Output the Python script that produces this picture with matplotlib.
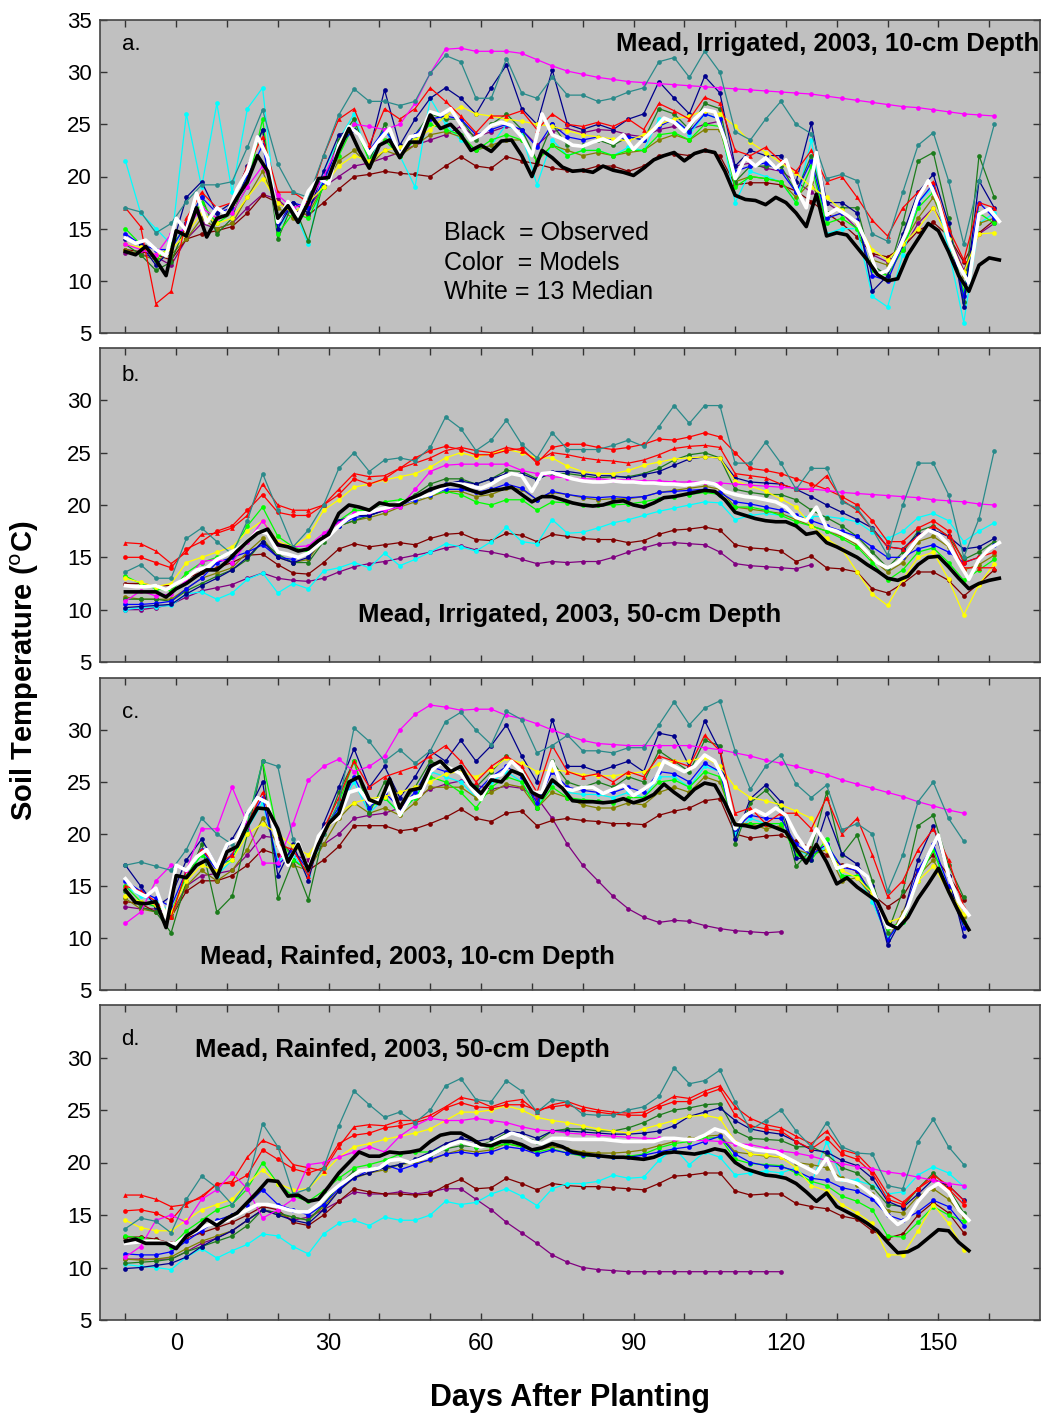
import numpy as np
import matplotlib.pyplot as plt

plt.rcParams['font.family'] = ['Liberation Sans', 'DejaVu Sans']

nan = np.nan

# Day grids (daily records thinned: observed/median every 2 days, models every 3 days)
obs_days_a = np.arange(-10, 163, 2)
mod_days_a = np.arange(-10, 162, 3)
obs_days_c = np.arange(-10, 157, 2)
mod_days_c = np.arange(-10, 156, 3)

# ---------------- Panel a: Irrigated, 10 cm ----------------
a_obs = [12.8, 12.5, 13.3, 12.0, 10.5, 14.8, 14.3, 17.0, 14.2, 16.0,
         16.3, 18.0, 19.5, 22.0, 20.5, 16.0, 17.2, 15.6, 17.5, 19.8,
         19.9, 22.5, 24.6, 22.5, 20.8, 23.0, 23.5, 21.8, 23.3, 23.3,
         25.9, 24.6, 25.0, 24.0, 22.5, 23.0, 22.4, 23.4, 23.5, 22.0,
         20.0, 22.5, 21.8, 20.9, 20.5, 20.6, 20.4, 21.0, 20.6, 20.4,
         20.1, 20.8, 21.6, 22.0, 22.3, 21.5, 22.2, 22.5, 22.3, 20.5,
         18.2, 17.8, 17.7, 17.3, 18.0, 17.5, 16.5, 15.2, 18.3, 14.3,
         14.6, 14.4, 13.2, 12.0, 10.6, 10.0, 10.2, 12.5, 14.0, 15.5,
         14.8, 12.8, 10.5, 9.0, 11.5, 12.2, 12.0]
a_med = [14.1, 13.6, 13.9, 13.0, 12.4, 16.0, 14.8, 18.4, 15.6, 17.0,
         16.3, 18.8, 20.5, 23.8, 21.8, 15.6, 17.6, 16.2, 18.6, 19.8,
         19.3, 23.0, 24.8, 24.0, 22.2, 23.5, 24.6, 22.0, 23.8, 24.0,
         26.2, 25.9, 26.5, 25.0, 23.5, 24.0, 24.9, 25.2, 24.9, 23.8,
         22.0, 26.0, 24.0, 23.6, 23.0, 22.9, 23.3, 23.6, 23.2, 24.0,
         22.6, 23.6, 24.5, 25.6, 25.2, 24.3, 25.5, 26.4, 26.2, 23.5,
         19.8, 21.8, 21.0, 21.8, 20.8, 21.6, 18.9, 17.0, 22.3, 16.3,
         16.9, 16.3, 15.6, 13.5, 10.6, 11.0, 12.8, 15.0, 18.0, 19.6,
         17.5, 14.0, 11.5, 9.8, 16.4, 16.9, 15.7]
a_teal = [17.0, 16.6, 14.6, 15.5, 17.6, 19.2, 19.2, 19.5, 22.8, 26.4,
          21.2, 18.5, 18.0, 22.0, 25.9, 28.4, 27.2, 27.2, 26.8, 27.2,
          29.9, 31.6, 31.0, 27.5, 27.5, 31.3, 28.0, 27.5, 29.5, 27.8,
          27.8, 27.2, 27.5, 28.1, 28.5, 31.0, 31.4, 29.5, 32.0, 30.0,
          24.3, 23.5, 25.5, 27.2, 25.0, 24.1, 19.8, 20.2, 19.6, 14.5,
          13.8, 18.5, 23.0, 24.2, 19.6, 13.5, 19.6, 25.0]
a_magenta = [13.5, 13.0, 12.5, 14.5, 15.0, 17.0, 16.0, 16.5, 19.0, 21.0,
             18.2, 17.0, 17.5, 20.0, 23.0, 25.0, 24.8, 24.5, 25.0, 27.0,
             29.9, 32.2, 32.3, 32.0, 32.0, 32.0, 31.8, 31.2, 30.6, 30.1,
             29.8, 29.5, 29.3, 29.1, 29.0, 28.9, 28.8, 28.7, 28.6, 28.5,
             28.4, 28.3, 28.2, 28.1, 28.0, 27.9, 27.7, 27.5, 27.3, 27.1,
             26.9, 26.7, 26.6, 26.4, 26.2, 26.0, 25.9, 25.8]
a_red = [17.0, 15.2, 7.8, 9.0, 16.0, 18.5, 17.0, 17.5, 21.0, 23.8,
         18.5, 18.5, 17.5, 22.0, 25.5, 26.5, 23.0, 26.5, 25.5, 26.5,
         28.5, 27.2, 25.8, 24.2, 25.8, 25.8, 26.3, 24.5, 26.0, 25.0,
         24.8, 25.2, 24.8, 25.5, 24.5, 27.0, 26.3, 25.5, 27.6, 27.0,
         22.5, 22.0, 22.8, 21.5, 20.5, 22.5, 19.5, 20.0, 18.0, 15.8,
         14.3, 17.0, 18.5, 19.5, 15.0, 12.0, 17.5, 17.0]
a_yellow = [13.5, 13.2, 12.5, 13.0, 14.5, 16.5, 15.5, 16.0, 18.0, 19.8,
            17.5, 16.5, 17.5, 19.0, 21.0, 22.0, 21.5, 22.5, 22.8, 23.5,
            24.5, 25.8, 26.7, 26.0, 25.8, 25.5, 25.3, 25.0, 24.8, 24.4,
            24.0, 23.8, 23.6, 23.4, 24.0, 25.0, 25.5, 25.8, 26.3, 26.0,
            24.8, 23.3, 22.3, 21.3, 20.3, 19.0, 18.0, 16.8, 15.5, 13.0,
            12.0, 13.5, 15.0, 17.0, 14.0, 10.8, 14.5, 14.6]
a_navy = [14.0, 13.5, 11.5, 13.0, 18.0, 19.5, 16.5, 17.5, 21.0, 24.5,
          15.0, 17.5, 16.5, 20.5, 24.0, 24.5, 22.5, 28.3, 23.0, 25.5,
          27.5, 28.5, 27.5, 26.0, 28.5, 30.7, 26.5, 25.0, 30.2, 25.0,
          24.5, 25.0, 24.5, 25.5, 26.0, 29.1, 27.5, 26.0, 29.6, 28.0,
          21.0, 22.5, 22.0, 22.0, 19.5, 25.1, 17.5, 17.5, 16.5, 9.0,
          10.5, 14.5, 18.5, 20.2, 15.5, 7.5, 19.6, 17.0]
a_blue = [14.5, 13.5, 13.0, 13.0, 15.5, 18.0, 16.5, 17.0, 20.0, 23.0,
          15.5, 17.5, 17.0, 19.5, 23.0, 24.5, 22.5, 24.5, 22.5, 24.0,
          25.5, 25.8, 25.5, 24.0, 24.5, 25.0, 24.5, 22.8, 25.0, 23.8,
          23.5, 23.8, 23.5, 23.8, 23.5, 24.8, 25.5, 24.3, 26.0, 25.5,
          20.5, 21.0, 21.3, 20.5, 18.5, 21.5, 16.0, 16.5, 15.8, 10.5,
          10.0, 13.5, 17.5, 19.3, 14.5, 8.5, 17.5, 16.0]
a_green = [15.0, 13.5, 12.0, 13.5, 15.0, 17.5, 15.5, 16.5, 19.0, 25.5,
           14.5, 16.5, 16.0, 19.0, 22.0, 25.0, 21.5, 23.5, 22.0, 23.5,
           25.0, 24.5, 24.0, 22.5, 23.5, 24.0, 23.5, 21.5, 23.0, 22.0,
           22.5, 22.5, 22.0, 22.5, 22.5, 24.0, 24.2, 23.5, 25.0, 24.8,
           19.0, 20.0, 19.8, 19.5, 17.5, 21.0, 15.5, 16.0, 15.0, 11.0,
           10.5, 13.0, 17.0, 18.5, 14.0, 9.0, 16.5, 15.5]
a_dkgreen = [13.5, 12.5, 11.0, 11.8, 15.5, 18.0, 14.5, 16.0, 20.5, 24.5,
             14.0, 17.5, 13.8, 19.5, 23.5, 25.5, 21.5, 25.0, 22.0, 24.0,
             26.0, 25.5, 25.5, 23.5, 25.0, 26.0, 24.5, 21.5, 25.0, 23.0,
             23.0, 23.5, 23.0, 23.8, 23.5, 26.5, 26.0, 24.5, 27.0, 26.5,
             19.5, 21.0, 21.0, 21.0, 18.5, 22.0, 16.5, 17.0, 17.0, 11.5,
             10.5, 15.5, 21.5, 22.3, 16.0, 8.0, 22.0, 18.0]
a_olive = [13.0, 12.5, 12.0, 12.5, 14.0, 16.0, 15.0, 15.5, 18.0, 20.5,
           17.0, 16.0, 16.5, 19.0, 21.5, 22.5, 21.0, 22.5, 22.0, 23.0,
           24.0, 24.3, 23.8, 22.5, 23.0, 23.5, 23.5, 21.5, 23.0, 22.5,
           22.0, 22.3, 22.0, 22.3, 22.5, 23.5, 24.0, 23.5, 24.5, 24.5,
           19.5, 20.0, 19.8, 19.5, 18.0, 19.5, 16.0, 16.5, 15.5, 12.0,
           11.5, 13.5, 16.0, 18.0, 14.5, 10.5, 15.5, 16.0]
a_cyan = [21.5, 16.5, 15.0, 13.5, 26.0, 19.0, 27.0, 18.5, 26.5, 28.5,
          15.0, 17.0, 13.5, 20.5, 23.5, 26.0, 21.5, 24.5, 22.0, 19.0,
          27.5, 25.0, 23.5, 22.5, 23.0, 25.0, 24.0, 19.2, 23.5, 22.0,
          22.5, 22.5, 22.0, 22.8, 22.5, 25.5, 25.5, 24.0, 26.0, 25.5,
          17.5, 20.5, 20.0, 19.5, 17.5, 23.5, 14.5, 15.0, 15.0, 8.5,
          7.5, 12.5, 17.5, 19.0, 13.0, 6.0, 15.5, 16.5]
a_maroon = [13.0, 12.8, 12.5, 12.0, 14.0, 14.5, 14.8, 15.2, 16.5, 18.2,
            17.5, 16.6, 16.3, 17.5, 18.8, 20.0, 20.2, 20.5, 20.3, 20.2,
            20.0, 21.0, 21.9, 21.0, 20.8, 21.9, 21.5, 21.2, 20.8, 20.6,
            20.6, 21.0, 21.0, 20.5, 21.0, 22.0, 22.2, 22.0, 22.5, 22.0,
            19.2, 19.4, 19.4, 19.2, 18.6, 17.6, 16.5, 15.5, 14.2, 12.6,
            12.3, 13.2, 14.8, 15.6, 14.3, 11.8, 14.6, 15.8]
a_purple = [12.7, 12.5, 12.3, 11.5, 14.0, 15.5, 15.0, 15.5, 17.0, 18.3,
            17.8, 16.5, 17.0, 19.0, 20.0, 21.0, 21.3, 21.8, 22.3, 23.0,
            23.5, 24.0, 24.8, 23.8, 24.3, 24.8, 24.5, 23.0, 24.3, 24.6,
            24.2, 24.5, 24.4, 24.0, 23.8, 24.5, 24.8, 24.5, 25.0, 25.3,
            21.0, 21.3, 20.8, 20.5, 19.5, 18.5, 17.5, 16.5, 15.0, 12.5,
            11.8, 13.0, 15.5, 17.0, 14.5, 11.0, 14.5, 15.5]

# ---------------- Panel b: Irrigated, 50 cm ----------------
b_obs = [11.7, 11.7, 11.7, 11.7, 11.2, 12.0, 12.5, 13.2, 13.8, 13.8,
         14.6, 15.6, 16.5, 17.3, 17.7, 16.2, 16.0, 15.6, 15.8, 16.6,
         17.2, 19.2, 20.0, 19.8, 19.5, 20.2, 20.0, 20.0, 20.6, 21.0,
         21.5, 21.8, 22.0, 21.8, 21.4, 21.1, 21.4, 21.5, 21.7, 21.0,
         20.3, 20.8, 20.8, 20.5, 20.2, 20.0, 19.9, 20.0, 20.3, 20.4,
         20.0, 19.8, 20.2, 20.7, 20.8, 21.0, 21.2, 21.4, 21.3, 20.5,
         19.3, 19.0, 18.7, 18.5, 18.4, 18.4, 18.0, 17.2, 17.4, 16.4,
         16.0, 15.5, 15.0, 14.3, 13.7, 13.0, 12.8, 13.2, 14.3, 15.0,
         15.1, 14.1, 13.0, 12.0, 12.5, 12.8, 13.0]
b_med = [12.3, 12.2, 12.2, 12.3, 11.9, 12.5, 13.0, 13.8, 14.0, 14.8,
         15.3, 15.8, 16.5, 17.5, 17.3, 15.5, 15.3, 15.0, 15.4, 16.2,
         17.0, 18.0, 18.8, 19.2, 19.3, 19.6, 19.8, 20.2, 20.5, 20.8,
         21.0, 21.5, 22.0, 22.0, 21.8, 21.6, 22.0, 22.6, 23.0, 22.8,
         21.3, 23.0, 23.1, 22.8, 22.5, 22.3, 22.2, 22.2, 22.3, 22.2,
         22.2, 22.1, 22.1, 22.0, 22.0, 21.9, 22.0, 22.2, 22.0, 21.3,
         21.0, 20.8, 20.7, 20.5, 20.3, 19.8, 18.8, 18.5, 19.8, 17.8,
         17.5, 17.0, 16.5, 15.5, 14.5, 14.0, 14.5, 15.5, 16.8, 17.6,
         17.2, 16.2, 14.5, 12.9, 14.8, 15.8, 16.4]
b_teal = [13.6, 14.3, 13.0, 13.0, 16.8, 17.8, 16.5, 15.3, 18.5, 23.0,
          19.5, 16.0, 17.6, 20.0, 23.5, 25.0, 23.2, 24.3, 24.5, 24.2,
          25.5, 28.4, 27.3, 25.2, 26.2, 28.1, 25.8, 24.5, 26.9, 25.3,
          25.3, 25.3, 25.7, 26.2, 25.6, 27.5, 29.5, 27.8, 29.5, 29.5,
          24.0, 24.0, 26.0, 24.0, 21.5, 23.5, 23.5, 20.3, 19.7, 17.7,
          15.2, 20.0, 24.0, 24.0, 21.0, 15.0, 18.7, 25.2]
b_magenta = [10.8, 11.8, 11.3, 11.5, 12.8, 14.6, 14.8, 14.5, 16.5, 18.5,
             16.3, 16.0, 16.1, 17.3, 18.3, 19.2, 19.3, 19.5, 19.8, 21.5,
             23.2, 23.8, 23.9, 23.9, 23.9, 23.9, 23.3, 23.0, 22.7, 22.6,
             22.5, 22.5, 22.4, 22.4, 22.3, 22.3, 22.2, 22.2, 22.2, 22.1,
             22.0, 21.9, 21.8, 21.7, 21.6, 21.5, 21.4, 21.2, 21.1, 21.0,
             20.9, 20.8, 20.7, 20.5, 20.4, 20.3, 20.1, 20.0]
b_red = [16.4, 16.3, 15.6, 14.4, 15.5, 17.2, 17.3, 17.8, 19.0, 22.0,
         20.0, 19.5, 19.5, 20.0, 21.5, 23.0, 22.7, 22.8, 23.5, 24.0,
         24.5, 25.2, 25.5, 25.2, 25.0, 25.5, 25.2, 24.2, 25.0, 24.8,
         24.5, 24.3, 24.2, 24.0, 24.3, 24.8, 25.4, 25.6, 25.7, 25.5,
         23.0, 22.8, 22.6, 22.0, 21.5, 21.5, 22.8, 20.5, 19.5, 17.7,
         16.0, 15.8, 17.0, 18.0, 17.0, 14.0, 14.0, 14.0]
b_red2 = [15.0, 15.0, 14.5, 14.0, 15.8, 16.5, 17.5, 18.0, 19.5, 21.0,
          19.3, 19.0, 19.0, 20.0, 21.0, 22.5, 22.0, 22.5, 23.5, 24.5,
          25.2, 25.6, 25.3, 24.8, 24.8, 25.2, 25.4, 24.0, 25.5, 25.8,
          25.8, 25.5, 25.3, 25.5, 25.8, 26.3, 26.2, 26.5, 26.9, 26.5,
          25.0, 23.5, 23.3, 23.0, 22.5, 22.0, 21.5, 20.8, 20.0, 18.5,
          16.5, 16.5, 17.8, 18.5, 17.5, 14.5, 15.0, 15.5]
b_yellow = [13.0, 12.6, 12.2, 12.5, 14.5, 15.0, 15.5, 16.0, 17.5, 18.5,
            16.5, 16.0, 17.0, 19.5, 20.5, 21.7, 22.0, 22.4, 22.7, 23.0,
            23.6, 24.5, 25.0, 24.6, 24.9, 25.3, 25.0, 24.5, 24.5, 23.7,
            23.2, 23.0, 23.0, 23.3, 23.8, 24.1, 24.4, 24.5, 24.6, 24.5,
            22.3, 21.8, 21.3, 20.6, 19.8, 18.0, 16.8, 15.8, 13.6, 11.5,
            10.4, 12.9, 15.0, 15.5, 12.9, 9.5, 12.4, 14.4]
b_navy = [10.2, 10.3, 10.4, 10.5, 11.5, 12.3, 13.0, 13.8, 15.0, 16.5,
          15.0, 14.5, 15.0, 17.0, 18.5, 19.0, 19.0, 19.5, 20.0, 20.8,
          21.5, 22.0, 22.3, 22.0, 22.5, 23.0, 23.0, 22.4, 23.2, 23.2,
          23.0, 22.8, 22.8, 22.6, 22.9, 23.2, 23.8, 24.4, 24.6, 24.5,
          22.6, 22.2, 22.1, 22.0, 21.5, 20.8, 20.0, 19.3, 18.6, 17.8,
          16.0, 15.8, 17.2, 17.6, 17.0, 15.8, 16.0, 16.8]
b_blue = [10.5, 10.5, 10.6, 10.8, 12.0, 13.0, 14.5, 15.0, 15.5, 16.2,
          15.0, 14.8, 15.3, 16.8, 18.0, 18.8, 19.0, 19.5, 20.0, 20.5,
          21.0, 21.5, 21.5, 21.2, 21.5, 22.0, 21.6, 20.5, 21.3, 21.0,
          20.8, 20.7, 20.8, 20.7, 20.8, 21.2, 21.3, 21.4, 21.5, 21.2,
          20.3, 20.1, 19.8, 19.5, 19.0, 18.5, 18.0, 17.5, 17.0, 16.0,
          15.0, 15.0, 15.8, 16.2, 15.5, 14.5, 15.0, 16.2]
b_green = [13.2, 12.5, 12.0, 11.8, 13.5, 14.5, 15.0, 15.5, 18.0, 19.8,
           17.0, 16.0, 15.5, 17.0, 18.5, 19.5, 19.5, 20.3, 20.5, 20.5,
           21.0, 21.3, 21.0, 20.3, 20.0, 20.5, 20.5, 19.5, 20.3, 20.2,
           20.0, 20.0, 20.0, 20.1, 20.3, 20.6, 20.8, 21.0, 21.2, 21.0,
           19.8, 19.8, 19.5, 19.0, 18.4, 18.0, 17.5, 16.8, 16.0, 14.5,
           12.8, 13.8, 15.5, 15.9, 14.5, 12.8, 13.8, 14.8]
b_dkgreen = [11.0, 11.0, 11.0, 10.8, 11.8, 12.5, 13.2, 13.8, 14.8, 16.5,
             15.3, 14.5, 14.5, 16.5, 18.0, 18.5, 19.0, 19.5, 20.0, 21.0,
             22.0, 22.5, 22.5, 22.0, 22.5, 23.3, 23.2, 22.5, 23.0, 23.0,
             22.8, 22.6, 22.7, 22.7, 23.0, 23.5, 24.3, 24.8, 25.0, 24.5,
             21.5, 21.2, 21.0, 21.0, 20.5, 19.5, 18.8, 18.0, 17.0, 15.5,
             14.0, 15.5, 17.5, 18.0, 17.0, 14.8, 15.5, 16.5]
b_olive = [11.2, 11.0, 11.0, 11.0, 12.0, 13.0, 13.5, 14.0, 15.5, 16.8,
           15.0, 14.5, 14.8, 16.8, 18.0, 18.5, 18.8, 19.2, 19.8, 20.3,
           20.8, 21.3, 21.3, 20.8, 21.0, 21.6, 21.5, 20.5, 21.2, 21.0,
           20.7, 20.5, 20.6, 20.6, 20.8, 21.2, 21.4, 21.6, 21.8, 21.5,
           19.8, 19.6, 19.4, 19.2, 18.6, 18.0, 17.5, 17.0, 16.2, 14.8,
           13.6, 14.5, 16.5, 17.0, 16.0, 13.8, 14.3, 15.2]
b_cyan = [10.0, 10.2, 10.3, 10.4, 11.5, 11.7, 11.0, 11.6, 12.9, 13.5,
          11.6, 12.5, 12.0, 13.7, 14.0, 14.5, 14.0, 15.4, 14.2, 14.8,
          15.5, 16.3, 16.0, 15.6, 16.5, 17.9, 16.5, 16.3, 18.6, 17.3,
          17.4, 17.8, 18.3, 18.6, 19.0, 19.4, 19.7, 20.0, 20.3, 20.2,
          18.6, 19.0, 19.2, 19.0, 18.9, 18.9, 18.9, 18.7, 18.4, 17.4,
          16.8, 17.5, 18.8, 19.2, 18.5, 16.5, 17.5, 18.3]
b_maroon = [12.5, 12.5, 12.3, 12.3, 13.0, 13.6, 14.0, 14.5, 15.2, 15.3,
            14.3, 13.5, 13.4, 14.5, 15.8, 16.3, 16.0, 16.2, 16.4, 16.2,
            16.8, 17.2, 17.3, 16.7, 16.6, 17.3, 17.1, 16.5, 17.2, 17.0,
            16.8, 16.7, 16.7, 16.4, 16.6, 17.2, 17.6, 17.7, 17.9, 17.6,
            16.2, 15.9, 15.8, 15.6, 14.6, 15.1, 14.0, 13.9, 13.6, 12.0,
            11.6, 12.5, 13.6, 13.6, 12.8, 11.3, 12.5, 13.8]
b_purple = [10.0, 10.0, 10.2, 10.5, 11.2, 11.8, 12.1, 12.4, 13.0, 13.5,
            13.0, 12.8, 12.7, 13.0, 13.6, 14.1, 14.4, 14.6, 14.9, 15.2,
            15.5, 15.9, 16.1, 15.7, 15.5, 15.2, 14.8, 14.4, 14.6, 14.5,
            14.6, 14.6, 15.0, 15.5, 15.9, 16.3, 16.4, 16.3, 16.2, 15.5,
            14.4, 14.2, 14.1, 14.0, 13.9, 14.3, nan, nan, nan, nan,
            nan, nan, nan, nan, nan, nan, nan, nan]

# ---------------- Panel c: Rainfed, 10 cm ----------------
c_obs = [14.6, 13.4, 13.3, 13.5, 11.0, 16.0, 15.8, 17.0, 17.5, 15.8,
         18.3, 18.8, 20.8, 22.5, 22.4, 20.5, 17.3, 19.0, 16.5, 19.0,
         21.0, 22.0, 25.0, 25.5, 23.3, 22.9, 25.3, 22.5, 24.2, 24.4,
         26.5, 27.0, 26.0, 26.5, 24.8, 23.9, 25.2, 25.0, 26.1, 25.7,
         24.0, 23.5, 25.2, 24.4, 23.2, 23.1, 23.1, 23.0, 23.1, 23.4,
         23.0, 23.3, 23.8, 24.8, 24.0, 23.3, 24.3, 24.9, 24.7, 23.0,
         20.9, 20.8, 20.6, 21.0, 20.6, 20.2, 18.6, 17.2, 19.0, 17.3,
         15.2, 15.8, 14.9, 14.2, 13.5, 11.4, 10.9, 12.0, 13.8, 15.2,
         16.7, 14.5, 12.5, 10.8]
c_med = [15.7, 14.5, 14.0, 14.8, 12.0, 17.0, 16.5, 17.8, 18.5, 16.8,
         19.0, 19.5, 22.0, 23.5, 23.0, 19.0, 17.0, 19.2, 16.5, 19.8,
         21.0, 21.5, 24.0, 24.3, 23.0, 23.3, 24.5, 21.8, 23.4, 23.7,
         26.0, 26.8, 26.3, 25.8, 24.5, 23.3, 25.5, 25.7, 27.0, 26.0,
         24.0, 24.0, 27.0, 24.4, 24.2, 24.5, 24.5, 23.9, 24.3, 24.7,
         23.7, 24.3, 25.0, 27.0, 26.5, 26.0, 26.5, 27.6, 27.0, 25.0,
         20.5, 21.8, 22.3, 21.8, 22.5, 21.8, 19.9, 18.5, 20.5, 19.0,
         16.7, 17.0, 16.7, 15.9, 13.5, 11.0, 11.1, 13.0, 15.8, 18.0,
         19.9, 16.0, 13.5, 12.2]
c_teal = [17.0, 17.3, 16.9, 16.5, 18.5, 21.5, 20.0, 19.0, 20.8, 27.0,
          26.5, 19.5, 16.9, 20.0, 23.0, 30.2, 28.9, 27.0, 28.1, 26.8,
          28.0, 30.8, 31.7, 30.0, 28.6, 31.8, 31.0, 27.8, 28.5, 29.5,
          28.0, 28.0, 27.8, 28.3, 28.3, 30.5, 32.7, 30.5, 32.1, 32.8,
          28.0, 24.3, 26.5, 27.6, 24.8, 23.5, 24.7, 20.4, 21.0, 20.0,
          14.5, 18.0, 23.1, 25.0, 21.5, 19.3]
c_magenta = [11.4, 12.5, 15.5, 17.0, 16.5, 20.5, 20.5, 24.5, 21.0, 17.2,
             17.2, 21.0, 25.2, 26.5, 27.2, 26.0, 26.5, 27.5, 30.0, 31.5,
             32.4, 32.2, 31.9, 32.0, 32.0, 31.4, 31.1, 30.6, 30.0, 29.5,
             29.0, 28.7, 28.6, 28.5, 28.5, 28.5, 28.5, 28.5, 28.3, 28.1,
             27.8, 27.5, 27.1, 26.8, 26.5, 26.1, 25.7, 25.2, 24.8, 24.4,
             24.0, 23.6, 23.1, 22.7, 22.3, 22.0]
c_red = [15.0, 14.5, 13.5, 12.0, 16.5, 18.5, 17.0, 18.0, 21.0, 24.0,
         19.0, 18.5, 16.0, 20.5, 23.5, 27.0, 24.5, 25.5, 26.0, 26.5,
         27.5, 28.5, 27.0, 25.0, 26.5, 27.5, 26.5, 24.0, 28.5, 26.0,
         25.5, 25.8, 25.0, 26.0, 25.5, 27.5, 27.0, 26.5, 29.5, 28.0,
         22.0, 22.5, 21.0, 22.0, 22.0, 20.5, 23.5, 20.0, 21.5, 18.0,
         14.0, 15.5, 18.5, 20.5, 17.5, 13.0]
c_yellow = [14.0, 13.5, 13.2, 12.5, 15.5, 17.0, 16.5, 17.5, 20.0, 21.0,
            20.0, 18.8, 18.0, 20.0, 22.0, 23.0, 23.4, 23.6, 24.0, 24.5,
            25.0, 25.8, 26.0, 25.5, 26.2, 27.3, 26.8, 26.0, 26.2, 26.0,
            25.7, 25.6, 25.6, 25.8, 26.0, 26.7, 27.0, 27.0, 27.4, 26.5,
            24.5, 23.5, 23.2, 22.8, 22.2, 21.5, 18.5, 16.5, 15.8, 14.3,
            11.5, 12.0, 15.5, 16.9, 14.5, 12.3]
c_navy = [17.0, 15.0, 13.0, 14.0, 17.5, 19.5, 17.0, 19.5, 22.0, 25.0,
          16.0, 19.0, 15.5, 21.0, 24.5, 28.2, 24.5, 26.5, 23.5, 25.5,
          28.0, 27.0, 29.0, 27.0, 28.5, 30.5, 27.5, 25.0, 31.0, 26.5,
          26.5, 26.0, 26.5, 27.0, 26.0, 29.7, 29.4, 26.5, 30.9, 28.0,
          19.5, 23.4, 24.7, 23.1, 17.7, 17.5, 22.0, 18.1, 17.1, 15.0,
          9.3, 12.0, 17.5, 20.8, 16.0, 10.2]
c_blue = [15.5, 14.5, 13.8, 13.0, 16.5, 18.5, 16.5, 18.0, 21.0, 23.5,
          17.0, 18.5, 16.5, 20.5, 22.5, 25.5, 22.5, 24.0, 22.5, 24.0,
          26.5, 26.0, 26.0, 24.0, 25.5, 26.5, 25.5, 23.0, 26.0, 24.5,
          24.2, 24.0, 24.0, 24.5, 24.0, 26.0, 25.8, 25.0, 26.8, 26.0,
          20.5, 21.8, 21.5, 21.5, 19.0, 18.0, 19.0, 16.8, 16.5, 14.0,
          9.8, 12.0, 16.5, 19.0, 15.0, 11.0]
c_green = [15.0, 13.5, 13.0, 12.5, 16.0, 18.0, 17.0, 17.5, 21.0, 27.0,
           20.0, 17.5, 16.5, 20.0, 23.0, 27.0, 22.5, 23.5, 22.0, 23.5,
           25.5, 25.0, 24.0, 22.5, 24.5, 25.5, 25.0, 22.5, 24.5, 23.5,
           23.3, 23.2, 23.0, 23.5, 23.5, 25.0, 25.2, 24.5, 26.0, 25.5,
           20.5, 21.0, 21.0, 21.0, 18.0, 17.5, 19.5, 16.0, 16.0, 14.5,
           11.0, 11.5, 15.5, 18.5, 14.5, 11.5]
c_dkgreen = [14.5, 13.0, 12.5, 10.5, 15.5, 19.0, 12.5, 14.0, 20.0, 27.0,
             13.8, 17.5, 13.7, 20.0, 24.0, 27.0, 22.0, 25.0, 22.5, 24.5,
             27.0, 26.5, 26.0, 24.5, 26.0, 27.5, 26.0, 22.5, 27.0, 25.0,
             24.5, 25.0, 24.5, 25.5, 25.0, 28.0, 27.0, 26.0, 29.0, 28.5,
             19.0, 23.0, 24.2, 22.5, 16.9, 18.5, 24.0, 18.0, 19.9, 15.5,
             10.5, 14.5, 20.8, 21.8, 17.0, 13.9]
c_olive = [13.8, 12.8, 12.5, 12.0, 15.0, 16.5, 15.5, 16.5, 18.5, 21.5,
           19.0, 17.0, 16.5, 19.0, 21.5, 23.0, 22.0, 22.5, 21.8, 23.0,
           24.5, 24.5, 24.5, 23.5, 24.0, 24.8, 24.5, 22.5, 24.0, 23.5,
           22.8, 22.5, 22.5, 23.0, 22.8, 24.0, 24.5, 24.0, 25.5, 25.0,
           21.0, 21.0, 20.5, 20.8, 18.5, 18.0, 18.5, 15.5, 15.8, 14.0,
           9.8, 12.5, 16.0, 17.5, 14.8, 12.0]
c_cyan = [15.0, 14.0, 13.5, 12.5, 16.0, 18.0, 16.0, 17.5, 20.5, 23.0,
          17.5, 18.0, 16.0, 20.0, 22.5, 25.0, 22.0, 23.5, 22.0, 23.5,
          26.0, 25.5, 25.0, 23.5, 25.0, 26.0, 25.0, 22.5, 25.0, 24.0,
          23.8, 23.8, 23.5, 24.0, 23.5, 25.5, 25.5, 24.5, 26.5, 26.0,
          20.0, 21.5, 21.0, 21.0, 18.5, 17.8, 18.8, 16.0, 16.0, 13.5,
          10.0, 11.5, 16.0, 18.5, 14.5, 11.5]
c_maroon = [13.5, 13.3, 12.5, 12.0, 14.5, 15.5, 15.5, 16.0, 17.0, 18.5,
            18.0, 17.5, 16.5, 17.5, 18.8, 20.8, 20.8, 20.8, 20.3, 20.5,
            21.0, 21.6, 22.4, 21.5, 21.2, 22.0, 22.2, 20.8, 21.3, 21.5,
            21.3, 21.2, 21.0, 21.0, 20.9, 21.8, 22.2, 22.5, 23.2, 23.4,
            20.0, 19.6, 19.8, 19.9, 19.3, 18.7, 18.0, 17.0, 16.4, 14.2,
            13.0, 14.0, 16.5, 18.0, 16.0, 13.7]
c_purple = [13.0, 12.8, 12.8, 12.3, 15.0, 16.0, 16.2, 16.5, 18.0, 19.8,
            19.6, 18.0, 17.5, 19.0, 20.0, 21.5, 21.8, 22.0, 22.5, 23.5,
            24.3, 24.8, 25.1, 24.7, 24.3, 24.6, 24.4, 23.5, 21.5, 19.0,
            17.0, 15.5, 14.0, 12.8, 12.0, 11.5, 11.7, 11.6, 11.2, 10.9,
            10.7, 10.6, 10.5, 10.6, nan, nan, nan, nan, nan, nan,
            nan, nan, nan, nan, nan, nan]

# ---------------- Panel d: Rainfed, 50 cm ----------------
d_obs = [12.5, 12.7, 12.3, 12.3, 12.3, 11.8, 13.0, 13.6, 14.6, 14.0,
         14.7, 15.2, 16.2, 17.2, 18.3, 18.2, 16.8, 16.9, 16.3, 16.5,
         17.7, 19.0, 20.0, 21.0, 20.6, 20.6, 21.0, 20.9, 21.0, 21.2,
         22.0, 22.6, 22.8, 22.8, 22.3, 21.7, 21.6, 22.0, 22.0, 21.7,
         21.2, 21.4, 21.8, 21.5, 21.0, 20.8, 20.7, 20.6, 20.5, 20.5,
         20.4, 20.3, 20.5, 20.9, 21.0, 20.9, 20.8, 21.0, 21.3, 21.1,
         20.0, 19.4, 19.1, 18.8, 18.7, 18.5, 18.0, 17.2, 16.3, 17.1,
         15.8, 15.3, 14.8, 14.2, 13.5, 12.4, 11.4, 11.5, 12.0, 12.8,
         13.6, 13.5, 12.4, 11.6]
d_med = [12.3, 12.4, 12.5, 12.5, 12.3, 12.3, 13.0, 13.5, 14.0, 14.3,
         14.5, 15.0, 15.5, 16.0, 16.0, 15.8, 15.5, 15.3, 15.3, 16.0,
         17.0, 17.8, 18.5, 19.2, 19.3, 19.5, 20.2, 20.3, 20.0, 20.3,
         20.7, 21.2, 21.7, 22.0, 21.7, 21.5, 21.8, 22.3, 22.8, 22.5,
         22.0, 21.8, 22.3, 22.3, 22.2, 22.2, 22.2, 22.2, 22.1, 22.0,
         22.0, 22.0, 22.0, 22.3, 22.3, 22.2, 22.2, 22.6, 23.2, 22.9,
         21.9, 21.5, 21.2, 21.1, 21.0, 20.5, 20.0, 19.5, 19.0, 20.4,
         18.4, 18.3, 18.0, 17.3, 16.5, 15.0, 14.1, 14.7, 16.3, 17.4,
         18.0, 17.2, 15.5, 14.5]
d_teal = [13.7, 14.7, 14.4, 13.3, 16.5, 18.7, 17.6, 16.0, 18.0, 23.7,
          21.5, 17.0, 17.5, 19.5, 23.5, 26.8, 25.5, 24.3, 24.8, 23.8,
          25.0, 27.3, 28.0, 26.0, 25.8, 27.8, 26.8, 24.8, 26.0, 25.8,
          24.6, 24.5, 24.5, 25.0, 25.3, 26.3, 29.0, 27.5, 27.8, 28.8,
          25.8, 23.1, 24.0, 25.0, 23.0, 21.5, 23.8, 21.5, 20.9, 20.8,
          17.8, 17.5, 22.0, 24.1, 21.5, 19.8]
d_magenta = [11.0, 12.0, 14.5, 15.0, 14.3, 16.5, 17.4, 19.0, 17.5, 14.7,
             15.5, 16.5, 19.8, 20.0, 20.5, 21.0, 21.5, 21.0, 22.5, 23.5,
             24.2, 24.0, 24.0, 24.2, 24.0, 23.8, 23.4, 23.1, 23.0, 22.8,
             22.7, 22.6, 22.5, 22.4, 22.3, 22.3, 22.2, 22.1, 22.1, 22.0,
             21.8, 21.7, 21.4, 21.1, 20.9, 20.6, 20.2, 19.9, 19.6, 19.4,
             19.1, 18.9, 18.6, 18.3, 18.0, 17.8]
d_red = [16.9, 16.9, 16.5, 15.8, 16.0, 16.8, 17.9, 18.2, 20.5, 22.1,
         21.5, 19.8, 19.5, 19.2, 21.5, 23.4, 23.6, 23.5, 24.0, 24.0,
         24.5, 25.3, 26.2, 25.9, 25.3, 25.8, 26.0, 24.8, 25.5, 25.8,
         25.3, 25.0, 24.8, 24.7, 24.8, 25.5, 26.3, 26.1, 26.8, 27.3,
         25.3, 24.2, 23.6, 23.3, 22.5, 21.8, 23.0, 21.2, 20.8, 19.3,
         17.0, 16.2, 17.5, 18.8, 17.8, 16.4]
d_red2 = [15.4, 15.5, 15.2, 14.5, 16.2, 16.6, 18.0, 18.0, 18.8, 21.2,
          20.3, 19.4, 19.0, 19.5, 21.8, 22.6, 22.8, 23.3, 23.5, 23.8,
          24.2, 25.2, 25.7, 25.3, 25.2, 25.5, 25.5, 25.0, 25.3, 25.5,
          25.0, 24.8, 24.6, 24.5, 24.5, 25.3, 25.8, 25.8, 26.5, 27.0,
          24.5, 23.5, 23.2, 23.0, 22.0, 21.3, 22.3, 20.8, 20.3, 19.0,
          16.5, 16.0, 17.5, 18.5, 17.5, 16.0]
d_yellow = [14.5, 13.8, 13.5, 13.5, 14.5, 15.5, 16.0, 16.5, 18.0, 19.3,
            18.0, 17.4, 17.5, 19.0, 20.5, 21.5, 21.8, 22.2, 22.5, 22.8,
            23.2, 24.0, 24.8, 24.8, 25.0, 25.4, 25.0, 24.3, 24.0, 23.8,
            23.5, 23.2, 23.0, 22.8, 23.2, 23.6, 24.0, 24.4, 24.5, 24.2,
            22.0, 20.8, 20.7, 20.5, 19.5, 17.8, 17.3, 16.0, 15.2, 14.2,
            11.2, 11.2, 13.5, 16.0, 14.2, 11.7]
d_navy = [9.9, 10.0, 10.2, 10.4, 11.0, 12.0, 12.8, 13.5, 14.5, 15.5,
          15.0, 14.5, 14.2, 15.5, 17.3, 18.6, 19.0, 19.5, 19.8, 20.3,
          21.0, 21.8, 22.3, 22.0, 22.3, 23.0, 22.8, 22.3, 23.0, 23.0,
          22.9, 22.8, 22.7, 22.7, 22.8, 23.0, 23.5, 24.4, 24.8, 25.2,
          24.0, 23.2, 22.9, 22.7, 22.0, 21.2, 21.0, 20.2, 19.7, 18.5,
          16.3, 15.7, 17.0, 18.4, 17.8, 16.4]
d_blue = [11.3, 11.2, 11.2, 11.5, 12.5, 13.5, 14.5, 15.0, 16.0, 17.4,
          16.0, 15.5, 15.0, 16.0, 17.5, 18.5, 19.3, 19.8, 19.3, 19.8,
          20.3, 20.8, 21.0, 20.8, 21.0, 21.5, 21.3, 20.8, 21.2, 20.9,
          20.7, 20.6, 20.5, 20.5, 20.7, 21.0, 21.3, 21.5, 22.0, 22.5,
          20.8, 20.0, 19.7, 19.6, 19.2, 18.5, 18.3, 17.6, 17.3, 16.5,
          15.0, 14.5, 15.3, 16.4, 15.8, 14.0]
d_green = [13.0, 12.8, 12.5, 12.0, 13.5, 14.5, 15.5, 16.0, 17.5, 20.0,
           18.0, 16.8, 16.3, 17.3, 18.5, 19.5, 19.8, 20.2, 20.8, 21.0,
           21.0, 21.5, 22.0, 21.5, 21.5, 21.8, 21.5, 21.0, 21.3, 20.9,
           20.6, 20.6, 20.5, 20.6, 20.8, 21.4, 21.8, 22.0, 22.3, 22.4,
           20.3, 19.9, 19.8, 19.7, 19.0, 18.2, 17.8, 16.8, 16.3, 15.5,
           13.0, 12.9, 14.3, 15.8, 15.0, 14.4]
d_dkgreen = [10.4, 10.5, 10.6, 10.8, 11.5, 12.0, 12.5, 13.0, 14.0, 15.5,
             15.2, 14.8, 14.5, 16.0, 17.8, 19.2, 19.3, 19.5, 19.8, 20.2,
             20.6, 21.3, 21.6, 21.5, 22.0, 22.8, 22.5, 22.0, 23.0, 23.2,
             23.2, 23.0, 23.0, 23.3, 23.8, 24.5, 25.0, 25.2, 25.5, 25.6,
             23.0, 22.3, 22.2, 22.1, 21.5, 21.5, 20.8, 19.5, 19.0, 17.7,
             16.0, 15.8, 17.5, 19.0, 17.5, 15.2]
d_olive = [10.8, 10.7, 10.8, 11.0, 11.8, 12.5, 13.0, 13.5, 14.5, 15.5,
           15.0, 14.8, 14.5, 15.8, 17.3, 18.5, 19.0, 19.3, 19.8, 20.0,
           20.2, 20.8, 21.2, 21.0, 21.2, 21.8, 21.5, 21.2, 21.5, 21.3,
           21.0, 20.9, 20.9, 21.0, 21.2, 21.6, 22.0, 22.3, 22.5, 22.6,
           21.0, 20.8, 20.6, 20.5, 20.0, 19.8, 19.5, 18.5, 17.9, 17.0,
           15.4, 15.2, 16.8, 17.5, 16.5, 14.8]
d_cyan = [10.3, 10.1, 10.0, 9.8, 11.0, 11.8, 10.9, 11.6, 12.2, 13.2,
          13.0, 12.0, 11.3, 13.2, 14.2, 14.5, 14.0, 14.8, 14.5, 14.5,
          15.0, 16.3, 16.0, 16.2, 17.0, 17.5, 16.8, 15.9, 17.5, 18.0,
          18.0, 18.2, 18.8, 18.5, 18.6, 20.2, 21.4, 19.8, 21.0, 20.5,
          18.8, 19.0, 19.2, 19.0, 19.5, 18.0, 22.0, 18.4, 18.3, 17.8,
          17.0, 17.2, 18.8, 19.6, 19.0, 17.7]
d_maroon = [12.9, 12.9, 12.7, 12.3, 12.8, 13.3, 13.8, 14.3, 15.0, 15.8,
            15.5, 14.3, 14.0, 15.0, 16.3, 17.5, 17.2, 17.0, 17.0, 16.9,
            17.0, 17.8, 18.4, 17.5, 17.6, 18.5, 18.0, 17.4, 18.0, 17.8,
            17.7, 17.7, 17.6, 17.5, 17.4, 18.0, 18.7, 18.8, 19.0, 19.0,
            17.3, 16.9, 17.0, 17.0, 16.1, 15.8, 15.6, 14.9, 14.6, 13.5,
            12.8, 13.2, 15.0, 16.2, 15.2, 13.3]
d_purple = [10.8, 10.8, 10.8, 10.8, 11.5, 12.3, 12.8, 13.5, 14.5, 15.5,
            15.2, 14.5, 14.8, 15.5, 16.3, 17.2, 17.0, 17.0, 17.2, 17.0,
            17.2, 17.5, 17.5, 16.5, 15.5, 14.3, 13.3, 12.3, 11.2, 10.5,
            10.0, 9.8, 9.7, 9.6, 9.6, 9.6, 9.6, 9.6, 9.6, 9.6,
            9.6, 9.6, 9.6, 9.6, nan, nan, nan, nan, nan, nan,
            nan, nan, nan, nan, nan, nan]

model_colors = {
    'purple': '#800080', 'maroon': '#800000', 'cyan': '#00ffff',
    'olive': '#808000', 'dkgreen': '#1c7c1c', 'green': '#00ff00',
    'blue': '#0000ff', 'navy': '#00008b', 'yellow': '#ffff00',
    'red2': '#ff0000', 'red': '#ff0000', 'magenta': '#ff00ff',
    'teal': '#2a8a8a',
}


def draw_panel(ax, obs_days, obs, med, mod_days, models):
    for name, vals in models:
        marker = '^' if name == 'red' else 'o'
        ax.plot(mod_days, vals, color=model_colors[name], lw=0.9,
                marker=marker, markersize=3.4, markeredgewidth=0, zorder=2)
    ax.plot(obs_days, med, color='white', lw=2.6, zorder=3)
    ax.plot(obs_days, obs, color='black', lw=2.6, zorder=4)


fig = plt.figure(figsize=(10.42, 14.17), dpi=100)
left, width = 100 / 1042, 940 / 1042
boxes = [(20, 333), (348, 662), (678, 990), (1005, 1320)]
axes = []
for top, bot in boxes:
    axes.append(fig.add_axes([left, 1 - bot / 1417, width, (bot - top) / 1417]))

order = ['purple', 'maroon', 'cyan', 'olive', 'dkgreen', 'green', 'blue',
         'navy', 'yellow', 'red2', 'red', 'magenta', 'teal']
panel_models = [
    {'teal': a_teal, 'magenta': a_magenta, 'red': a_red, 'yellow': a_yellow,
     'navy': a_navy, 'blue': a_blue, 'green': a_green, 'dkgreen': a_dkgreen,
     'olive': a_olive, 'cyan': a_cyan, 'maroon': a_maroon, 'purple': a_purple},
    {'teal': b_teal, 'magenta': b_magenta, 'red': b_red, 'red2': b_red2,
     'yellow': b_yellow, 'navy': b_navy, 'blue': b_blue, 'green': b_green,
     'dkgreen': b_dkgreen, 'olive': b_olive, 'cyan': b_cyan,
     'maroon': b_maroon, 'purple': b_purple},
    {'teal': c_teal, 'magenta': c_magenta, 'red': c_red, 'yellow': c_yellow,
     'navy': c_navy, 'blue': c_blue, 'green': c_green, 'dkgreen': c_dkgreen,
     'olive': c_olive, 'cyan': c_cyan, 'maroon': c_maroon, 'purple': c_purple},
    {'teal': d_teal, 'magenta': d_magenta, 'red': d_red, 'red2': d_red2,
     'yellow': d_yellow, 'navy': d_navy, 'blue': d_blue, 'green': d_green,
     'dkgreen': d_dkgreen, 'olive': d_olive, 'cyan': d_cyan,
     'maroon': d_maroon, 'purple': d_purple},
]
series = [(obs_days_a, a_obs, a_med, mod_days_a),
          (obs_days_a, b_obs, b_med, mod_days_a),
          (obs_days_c, c_obs, c_med, mod_days_c),
          (obs_days_c, d_obs, d_med, mod_days_c)]

for ax, (od, ob, md, mdays), mods in zip(axes, series, panel_models):
    models = [(n, mods[n]) for n in order if n in mods]
    draw_panel(ax, od, ob, md, mdays, models)

# axes styling
for i, ax in enumerate(axes):
    ax.set_facecolor('#c0c0c0')
    ax.set_xlim(-15, 170)
    ax.set_ylim(5, 35)
    ax.set_xticks([0, 30, 60, 90, 120, 150])
    ax.set_xticks(np.arange(-10, 170, 10), minor=True)
    ax.set_yticks(np.arange(5, 36 if i == 0 else 31, 5))
    ax.tick_params(which='both', direction='in', top=True, right=True,
                   length=5, width=1, color='#333333')
    ax.tick_params(axis='y', labelsize=16, pad=6)
    if i < 3:
        ax.tick_params(axis='x', labelbottom=False)
    for sp in ax.spines.values():
        sp.set_color('#444444')
        sp.set_linewidth(1.2)

axes[3].tick_params(axis='x', pad=9)
for lab in axes[3].get_xticklabels():
    lab.set_family(['Liberation Sans Narrow', 'Liberation Sans'])
    lab.set_fontsize(17)

# panel letters and titles
letters = ['a.', 'b.', 'c.', 'd.']
letter_y = [0.923, 0.914, 0.891, 0.889]
for ax, let, ly in zip(axes, letters, letter_y):
    ax.text(0.023, ly, let, transform=ax.transAxes, fontsize=16,
            ha='left', va='center')

title_kw = dict(fontsize=18.5, fontweight='bold', va='center')
axes[0].text(0.999, 0.923, 'Mead, Irrigated, 2003, 10-cm Depth',
             transform=axes[0].transAxes, ha='right', **title_kw)
axes[1].text(0.5, 0.150, 'Mead, Irrigated, 2003, 50-cm Depth',
             transform=axes[1].transAxes, ha='center', **title_kw)
axes[2].text(0.106, 0.106, 'Mead, Rainfed, 2003, 10-cm Depth',
             transform=axes[2].transAxes, ha='left', **title_kw)
axes[3].text(0.101, 0.857, 'Mead, Rainfed, 2003, 50-cm Depth',
             transform=axes[3].transAxes, ha='left', **title_kw)

# legend-like note in panel a
note = ['Black  = Observed', 'Color  = Models', 'White = 13 Median']
for txt, ny in zip(note, [0.319, 0.224, 0.131]):
    axes[0].text(0.366, ny, txt, transform=axes[0].transAxes, fontsize=18,
                 ha='left', va='center')

fig.text(0.024, 0.527, 'Soil Temperature ($^{\\mathrm{o}}$C)', rotation=90,
         ha='center', va='center', fontsize=21, fontweight='bold')
fig.text(0.547, 0.0134, 'Days After Planting', ha='center', va='center',
         fontsize=22, fontweight='bold',
         family=['Liberation Sans Narrow', 'Liberation Sans'])

fig.savefig('out.png', dpi=100)
